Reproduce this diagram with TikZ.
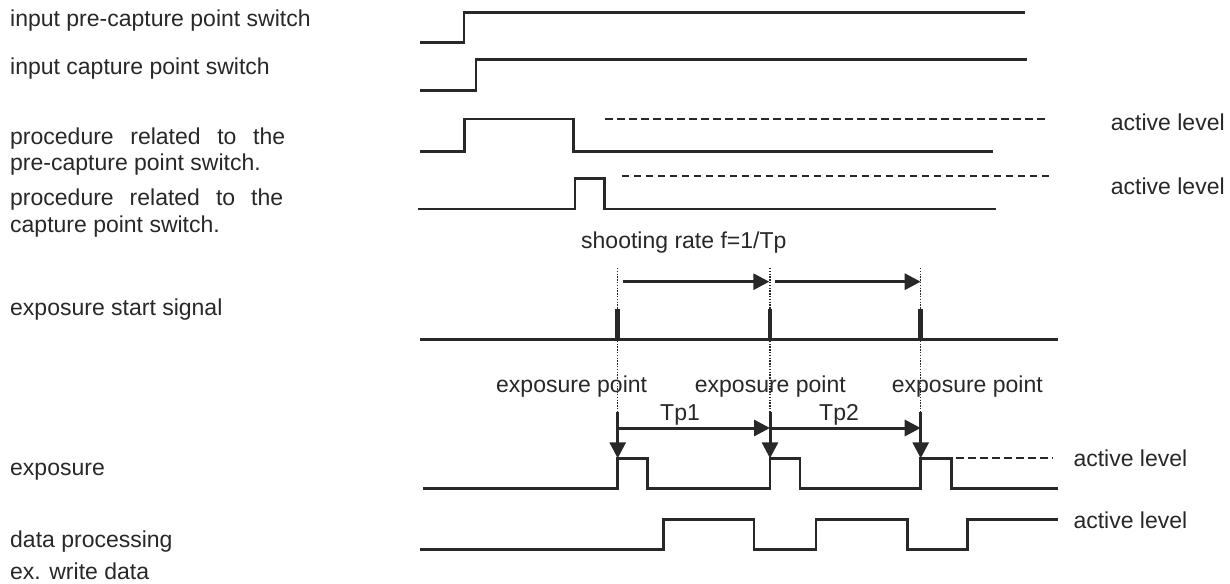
\documentclass[tikz,border=0pt]{standalone}
\usepackage{fontspec}
\setmainfont{Liberation Sans}
\usetikzlibrary{arrows.meta}
\definecolor{ink}{RGB}{40,40,40}
\begin{document}
\begin{tikzpicture}[x=1pt,y=-1pt,
  sig/.style={line width=2.7pt, draw=ink, line join=miter},
  dsh/.style={line width=2.1pt, draw=ink, dash pattern=on 7.5pt off 4.5pt},
  dotl/.style={line width=1.4pt, draw=ink, dash pattern=on 1.4pt off 1.4pt},
  bar/.style={line width=4.5pt, draw=ink},
  lbl/.style={anchor=base west, inner sep=0pt, text=ink, font=\fontsize{23}{26}\selectfont},
  arr/.style={line width=3pt, draw=ink, -{Triangle[length=16pt,width=16pt]}},
  ]
\fill[white] (0,0) rectangle (1230,583);
\useasboundingbox (0,0) rectangle (1230,583);

% left labels
\node[lbl] (l1) at (10,27) {input pre-capture point switch};
\node[lbl] (l2) at (10,75) {input capture point switch};
\node[lbl] (l3a) at (10,144) {\makebox[275pt][s]{procedure related to the}};
\node[lbl] (l3b) at (10,170) {pre-capture point switch.};
\node[lbl] (l4a) at (10,205) {\makebox[273pt][s]{procedure related to the}};
\node[lbl] (l4b) at (10,232) {capture point switch.};
\node[lbl] (l5) at (10,315) {exposure start signal};
\node[lbl] (l6) at (10,475) {exposure};
\node[lbl] (l7) at (10,547) {data processing};
\node[lbl] (l8) at (10,579) {ex. write data};

% right labels
\node[lbl] (a1) at (1110.7,130) {active level};
\node[lbl] (a2) at (1110.7,194.5) {active level};
\node[lbl] (a3) at (1073.3,466) {active level};
\node[lbl] (a4) at (1073.3,528) {active level};

% middle labels
\node[lbl] (sr) at (581,248) {shooting rate f=1/Tp};
\node[lbl] (ep1) at (496,392) {exposure point};
\node[lbl] (ep2) at (694.7,392) {exposure point};
\node[lbl] (ep3) at (891.7,392) {exposure point};
\node[lbl] (tp1) at (660,420) {Tp1};
\node[lbl] (tp2) at (819,420) {Tp2};

% signal 1 and 2
\draw[sig] (420,42.7) -- (464,42.7) -- (464,12.3) -- (1025,12.3);
\draw[sig] (420,90.3) -- (476,90.3) -- (476,59.3) -- (1026.7,59.3);
% signal 3
\draw[sig] (420,151.7) -- (464.3,151.7) -- (464.3,119) -- (573.3,119) -- (573.3,151.7) -- (992.7,151.7);
\draw[dsh] (605,119) -- (1045,119);
% signal 4
\draw[sig] (418,209) -- (575,209) -- (575,178.3) -- (604.3,178.3) -- (604.3,209) -- (996,209);
\draw[dsh] (621.7,176) -- (1053.3,176);

% exposure start signal
\draw[sig] (420,339.3) -- (1058.3,339.3);
\foreach \x in {617.7,770,920.7}{
  \draw[bar] (\x,309.3) -- (\x,339.3);
  \draw[dotl] (\x,268) -- (\x,411.7);
}

% event coordinates
\coordinate (u1s) at (622.7,281.7);
\coordinate (u1e) at (769.3,281.7);
\coordinate (u2s) at (775,281.7);
\coordinate (u2e) at (920.7,281.7);
\coordinate (d1t) at (617.7,411.7);
\coordinate (d2t) at (770,411.7);
\coordinate (d3t) at (920.7,411.7);
\coordinate (d1b) at (617.7,458.3);
\coordinate (d2b) at (770,458.3);
\coordinate (d3b) at (920.7,458.3);
\coordinate (h1) at (617.7,428);
\coordinate (h2) at (770,428);
\coordinate (h3) at (920.7,428);

\draw[arr] (u1s) -- (u1e);
\draw[arr] (u2s) -- (u2e);
\draw[arr] (h1) -- (h2);
\draw[arr] (h2) -- (h3);
\draw[arr] (d1t) -- (d1b);
\draw[arr] (d2t) -- (d2b);
\draw[arr] (d3t) -- (d3b);

% exposure
\draw[sig] (423,488.3) -- (617.7,488.3) -- (617.7,458.3) -- (647.7,458.3) -- (647.7,488.3)
  -- (770,488.3) -- (770,458.3) -- (800,458.3) -- (800,488.3)
  -- (920.7,488.3) -- (920.7,458.3) -- (951.7,458.3) -- (951.7,488.3) -- (1058.3,488.3);
\draw[dsh] (956,458.3) -- (1052.7,458.3);

% data processing
\draw[sig] (420,549.3) -- (663.3,549.3) -- (663.3,519.3) -- (754,519.3) -- (754,549.3)
  -- (816,549.3) -- (816,519.3) -- (907.3,519.3) -- (907.3,549.3)
  -- (967.3,549.3) -- (967.3,519.3) -- (1058.3,519.3);
\end{tikzpicture}
\end{document}
